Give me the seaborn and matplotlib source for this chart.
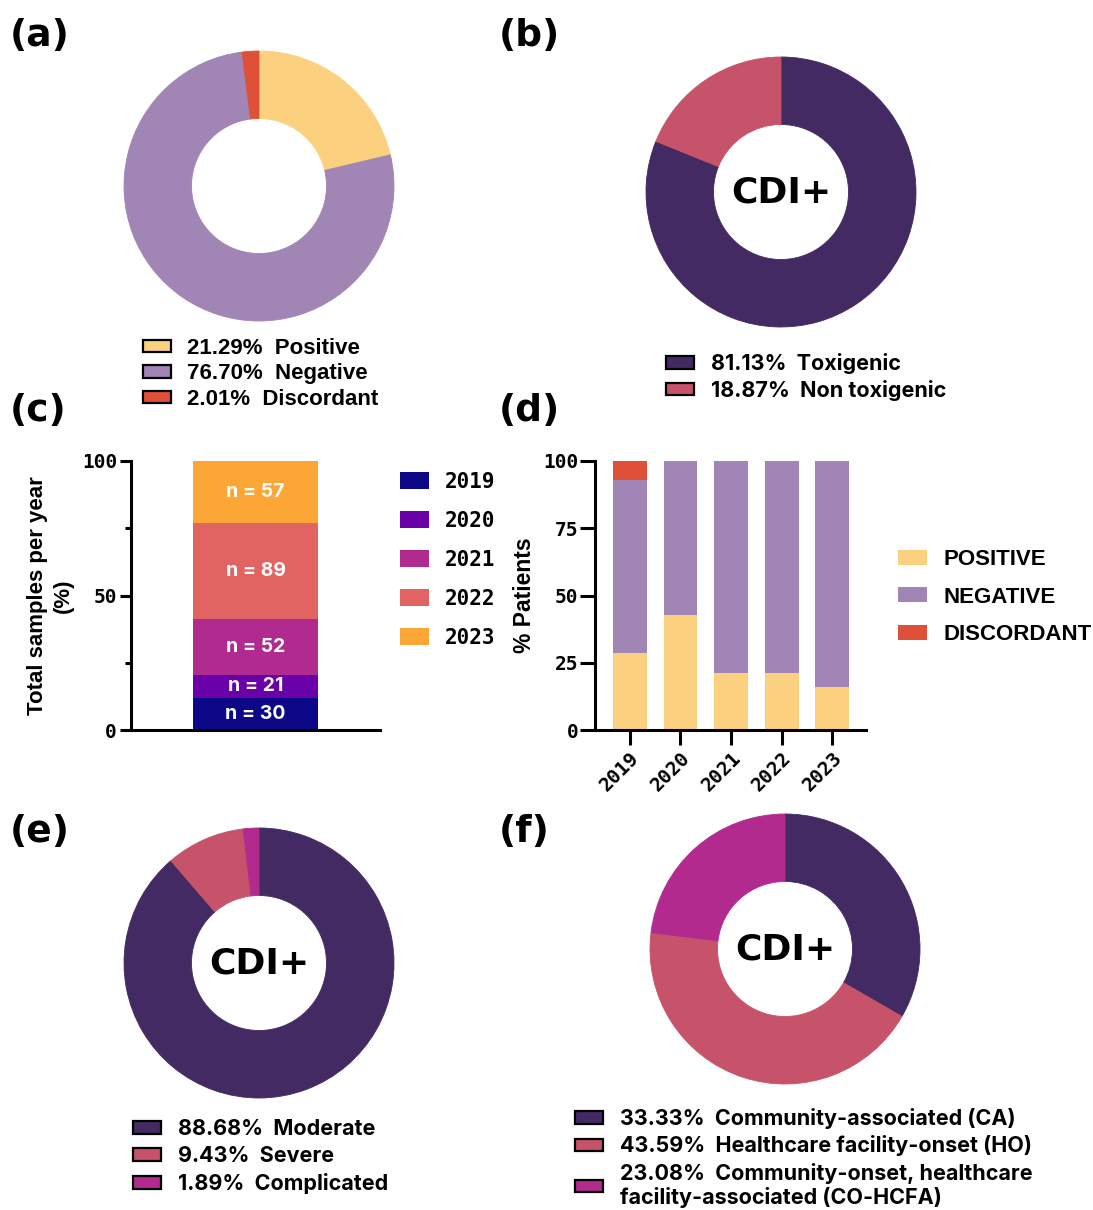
import numpy as np
import pandas as pd
import matplotlib
matplotlib.use("Agg")
import matplotlib.pyplot as plt
import seaborn as sns
from matplotlib.patches import Patch

sns.set_theme(style="white")
plt.rcParams["font.family"] = ["Liberation Sans", "DejaVu Sans"]
plt.rcParams.update({"text.color": "black", "axes.labelcolor": "black",
                     "xtick.color": "black", "ytick.color": "black"})

# ---- data -------------------------------------------------------------
# (a) overall test outcome
test_labels = ["Positive", "Negative", "Discordant"]
test_pct = [21.29, 76.70, 2.01]
test_colors = ["#FBD07F", "#A085B5", "#DE5138"]

# (b) toxin profile among CDI+
tox_labels = ["Toxigenic", "Non toxigenic"]
tox_pct = [81.13, 18.87]

# (e) severity among CDI+
sev_labels = ["Moderate", "Severe", "Complicated"]
sev_pct = [88.68, 9.43, 1.89]

# (f) origin of infection among CDI+
origin_labels = ["Community-associated (CA)",
                 "Healthcare facility-onset (HO)",
                 "Community-onset, healthcare\nfacility-associated (CO-HCFA)"]
origin_pct = [33.33, 43.59, 23.08]
cdi_colors = ["#432A62", "#C6536A", "#B22A8E"]

# (c) samples per year
years = ["2019", "2020", "2021", "2022", "2023"]
samples_n = [30, 21, 52, 89, 57]
year_colors = ["#0D0887", "#6A00A8", "#B12A90", "#E16462", "#FCA636"]

# (d) result per year (% patients)
result_labels = ["POSITIVE", "NEGATIVE", "DISCORDANT"]
pos_pct = [28.6, 42.9, 21.2, 21.3, 15.8]
neg_pct = [64.3, 57.1, 78.8, 78.7, 84.2]
disc_pct = [7.1, 0.0, 0.0, 0.0, 0.0]

# ---- figure -----------------------------------------------------------
W, H = 1093, 1210
fig = plt.figure(figsize=(W / 100, H / 100), dpi=100)


def px_rect(left, top, right, bottom):
    return [left / W, 1 - bottom / H, (right - left) / W, (bottom - top) / H]


GEO = ["Inter", "DejaVu Sans"]
MONO = ["DejaVu Sans Mono"]
HEAVY = ["DejaVu Sans"]


def donut(cx, cy, values, colors, center_text=None):
    r = 135
    ax = fig.add_axes(px_rect(cx - r, cy - r, cx + r, cy + r))
    wedges, _ = ax.pie(values, colors=colors, startangle=90, counterclock=False,
                       radius=1, wedgeprops=dict(width=0.5, linewidth=0))
    for w in wedges:
        w.set_edgecolor(w.get_facecolor())
        w.set_linewidth(0.6)
    ax.set_xlim(-1, 1)
    ax.set_ylim(-1, 1)
    ax.set_aspect("equal")
    ax.axis("off")
    if center_text:
        ax.text(0, 0, center_text, ha="center", va="center", fontsize=26,
                fontweight="bold", family=HEAVY)
    return ax


def pie_legend(labels, values, colors, x, y_top, family, size, spacing, pad=0.8):
    handles = [Patch(facecolor=c, edgecolor="black", linewidth=1.6) for c in colors]
    texts = [f"{v:.2f}%  {l}" for v, l in zip(values, labels)]
    fs_px = size * 100 / 72
    fig.legend(handles, texts, loc="upper left", bbox_to_anchor=(x / W, 1 - y_top / H),
               frameon=False, borderpad=0, borderaxespad=0, handlelength=28 / fs_px,
               handleheight=11 / fs_px, handletextpad=pad, labelspacing=spacing,
               prop=dict(family=family, weight="bold", size=size))


# panel letters
for letter, (x, y) in {"(a)": (10, 36), "(b)": (499, 36), "(c)": (10, 411),
                       "(d)": (499, 411), "(e)": (10, 832), "(f)": (499, 832)}.items():
    fig.text(x / W, 1 - y / H, letter, ha="left", va="center", fontsize=27,
             fontweight="bold", family=HEAVY)

# (a)
donut(259, 186, test_pct, test_colors)
pie_legend(test_labels, test_pct, test_colors, 143, 338, ["Liberation Sans"], 16, 0.2,
           pad=0.7)

# (b)
donut(781, 192, tox_pct, cdi_colors[:2], "CDI+")
pie_legend(tox_labels, tox_pct, cdi_colors[:2], 666, 353, GEO, 15.5, 0.27)

# (e)
donut(259, 963, sev_pct, cdi_colors, "CDI+")
pie_legend(sev_labels, sev_pct, cdi_colors, 133, 1119, GEO, 15.5, 0.33)

# (f)
donut(785, 949, origin_pct, cdi_colors, "CDI+")
pie_legend(origin_labels, origin_pct, cdi_colors, 575, 1108, GEO, 15.5, 0.3)


def style_axes(ax):
    sns.despine(ax=ax)
    for s in ("left", "bottom"):
        ax.spines[s].set_linewidth(2.2)
        ax.spines[s].set_color("black")


def mono_ticklabels(labels, size=14):
    for t in labels:
        t.set_fontfamily(MONO)
        t.set_fontweight("bold")
        t.set_fontsize(size)


# (c) stacked single bar of samples per year
ax_c = fig.add_axes(px_rect(131, 461, 380, 730))
df_c = pd.DataFrame({"year": years, "n": samples_n})
df_c["pct"] = df_c["n"] / df_c["n"].sum() * 100
df_c["top"] = df_c["pct"].cumsum()
df_c["bottom"] = df_c["top"] - df_c["pct"]
for i in reversed(range(len(df_c))):
    sns.barplot(x=["all"], y=[df_c["top"].iloc[i]], color=year_colors[i], width=1,
                saturation=1, linewidth=0, ax=ax_c)
for _, row in df_c.iterrows():
    ax_c.text(0, row["bottom"] + row["pct"] / 2, f"n = {row['n']}", ha="center",
              va="center", color="white", fontsize=14, fontweight="bold", family=GEO)
ax_c.set_xlim(-1, 1)
ax_c.set_ylim(0, 100)
ax_c.set_xticks([])
ax_c.set_xlabel("")
ax_c.set_yticks([0, 50, 100])
ax_c.set_yticks([25, 75], minor=True)
ax_c.tick_params(axis="y", which="major", left=True, length=8, width=2.2, pad=2, color="black")
ax_c.tick_params(axis="y", which="minor", left=True, length=4, width=2.2, color="black")
mono_ticklabels(ax_c.get_yticklabels())
ax_c.set_ylabel("Total samples per year\n(%)", fontsize=16, fontweight="bold",
                labelpad=6, linespacing=1.27)
style_axes(ax_c)
ax_c.legend([Patch(facecolor=c, linewidth=0) for c in year_colors], years,
            loc="upper left", bbox_to_anchor=(400 / W, 1 - 472 / H),
            bbox_transform=fig.transFigure, frameon=False, borderpad=0, borderaxespad=0,
            handlelength=1.4, handleheight=0.85, handletextpad=0.75, labelspacing=0.91,
            prop=dict(family=MONO, weight="bold", size=15))

# (d) stacked result bars per year
ax_d = fig.add_axes(px_rect(595, 461, 866, 730))
df_d = pd.DataFrame({"year": years, "POSITIVE": pos_pct, "NEGATIVE": neg_pct,
                     "DISCORDANT": disc_pct})
cum = df_d[result_labels].cumsum(axis=1).assign(year=years)
for lab, col in reversed(list(zip(result_labels, test_colors))):
    sns.barplot(data=cum, x="year", y=lab, color=col, width=0.67, saturation=1,
                linewidth=0, ax=ax_d)
ax_d.set_xlim(-0.69, 4.67)
ax_d.set_ylim(0, 100)
ax_d.set_yticks([0, 25, 50, 75, 100])
ax_d.tick_params(axis="y", left=True, length=11, width=2.2, pad=1, color="black")
ax_d.tick_params(axis="x", bottom=True, length=11, width=2.2, pad=2, color="black")
mono_ticklabels(ax_d.get_yticklabels())
ax_d.set_xticks(range(len(years)))
ax_d.set_xticklabels(years, rotation=45, ha="right", rotation_mode="anchor")
mono_ticklabels(ax_d.get_xticklabels())
ax_d.set_xlabel("")
ax_d.set_ylabel("% Patients", fontsize=16.5, fontweight="bold", labelpad=5)
style_axes(ax_d)
ax_d.legend([Patch(facecolor=c, linewidth=0) for c in test_colors], result_labels,
            loc="upper left", bbox_to_anchor=(898 / W, 1 - 549 / H),
            bbox_transform=fig.transFigure, frameon=False, borderpad=0, borderaxespad=0,
            handlelength=1.3, handleheight=0.65, handletextpad=0.75, labelspacing=0.75,
            prop=dict(family=["Liberation Sans"], weight="bold", size=16))

fig.savefig("out.png", dpi=100)
